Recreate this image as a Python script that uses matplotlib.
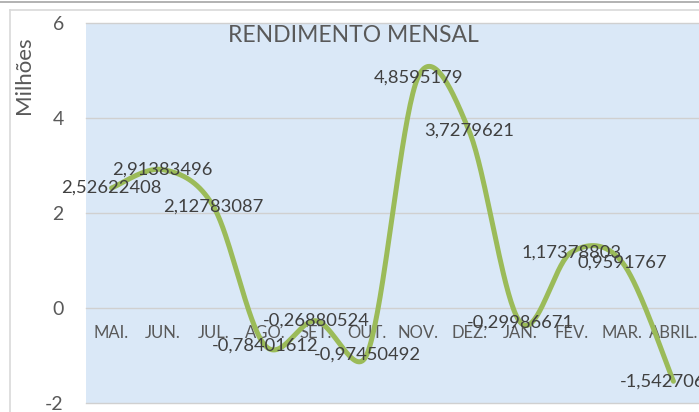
import numpy as np
import matplotlib.pyplot as plt
from matplotlib.lines import Line2D

# monthly return, in millions
meses = ["MAI.", "JUN.", "JUL.", "AGO.", "SET.", "OUT.", "NOV.", "DEZ.", "JAN.", "FEV.", "MAR.", "ABRIL."]
rendimento = [2.52622408, 2.91383496, 2.12783087, -0.78401612, -0.26880524, -0.97450492,
              4.8595179, 3.7279621, -0.29986671, 1.17378803, 0.9591767, -1.54270651]
rotulos = ["2,52622408", "2,91383496", "2,12783087", "-0,78401612", "-0,26880524", "-0,97450492",
           "4,8595179", "3,7279621", "-0,29986671", "1,17378803", "0,9591767", "-1,54270651"]
yticks = [-2, 0, 2, 4, 6]

plt.rcParams['font.family'] = ['Lato', 'DejaVu Sans']


def suavizar(x, y, sx=51.1, sy=47.3, n=40):
    # smoothed line like the spreadsheet one: cubic bezier, handles = 1/6 of the
    # neighbour chord, but never longer than half of the segment (in pixels)
    p = np.column_stack([np.asarray(x, float) * sx, np.asarray(y, float) * sy])
    m = len(p)
    h_out = np.zeros_like(p)
    h_in = np.zeros_like(p)
    for i in range(m):
        a = p[i - 1] if i > 0 else p[i]
        b = p[i + 1] if i < m - 1 else p[i]
        tg = b - a
        d02 = np.hypot(*tg)
        if d02 == 0:
            continue
        u = tg / d02
        d01 = np.hypot(*(p[i] - a))
        d12 = np.hypot(*(b - p[i]))
        h_out[i] = u * min(d02 / 6, d12 / 2)
        h_in[i] = u * min(d02 / 6, d01 / 2)
    t = np.linspace(0, 1, n)[:, None]
    seg = []
    for i in range(m - 1):
        c0, c1 = p[i], p[i] + h_out[i]
        c2, c3 = p[i + 1] - h_in[i + 1], p[i + 1]
        seg.append((1 - t) ** 3 * c0 + 3 * t * (1 - t) ** 2 * c1 + 3 * t ** 2 * (1 - t) * c2 + t ** 3 * c3)
    c = np.vstack(seg)
    return c[:, 0] / sx, c[:, 1] / sy


fig = plt.figure(figsize=(6.99, 4.12), dpi=100)
ax = fig.add_axes([86 / 699, 1 - 403 / 412, 1 - 86 / 699, (403 - 23) / 412])
ax.set_facecolor('#dae8f7')

pos = np.arange(len(meses))
cx, cy = suavizar(pos, rendimento)
ax.plot(cx, cy, color='#9bbb59', lw=3.6, solid_capstyle='round', zorder=3)

for i, v in enumerate(rendimento):
    ax.text(pos[i], v, rotulos[i], ha='center', va='center', fontsize=13.2,
            color='#404040', zorder=4, clip_on=False)

ax.set_xlim(-0.5, len(meses) - 0.5)
ax.set_ylim(-2, 6)
ax.set_yticks(yticks)
ax.set_yticklabels([str(t) for t in yticks], fontsize=14, color='#595959')
ax.tick_params(axis='y', length=0, pad=16)
ax.yaxis.grid(True, color='#d0d0d0', lw=1)
for gl in ax.get_ygridlines():
    gl.set_clip_on(False)
ax.set_axisbelow(True)

ax.spines['bottom'].set_position(('data', 0))
for s in ax.spines.values():
    s.set_visible(False)
ax.set_xticks(pos)
ax.set_xticklabels(meses, fontsize=12, color='#595959')
ax.tick_params(axis='x', length=0, pad=12.5)

fig.text(24 / 699, 1 - 75 / 412, 'Milhões', rotation=90, ha='center', va='center',
         fontsize=16, color='#595959')

fig.text(353 / 699, 1 - 36 / 412, 'RENDIMENTO MENSAL', ha='center', va='center',
         fontsize=16.5, color='#595959')

# borders of the sheet / chart area
fig.add_artist(Line2D([0, 1], [1 - 2 / 412, 1 - 2 / 412], color='#a6a6a6', lw=1.2))
fig.add_artist(Line2D([10 / 699, 1], [1 - 10 / 412, 1 - 10 / 412], color='#d9d9d9', lw=1.2))
fig.add_artist(Line2D([10 / 699, 10 / 699], [0, 1 - 10 / 412], color='#d9d9d9', lw=1.2))

fig.savefig('out.png', dpi=100)
